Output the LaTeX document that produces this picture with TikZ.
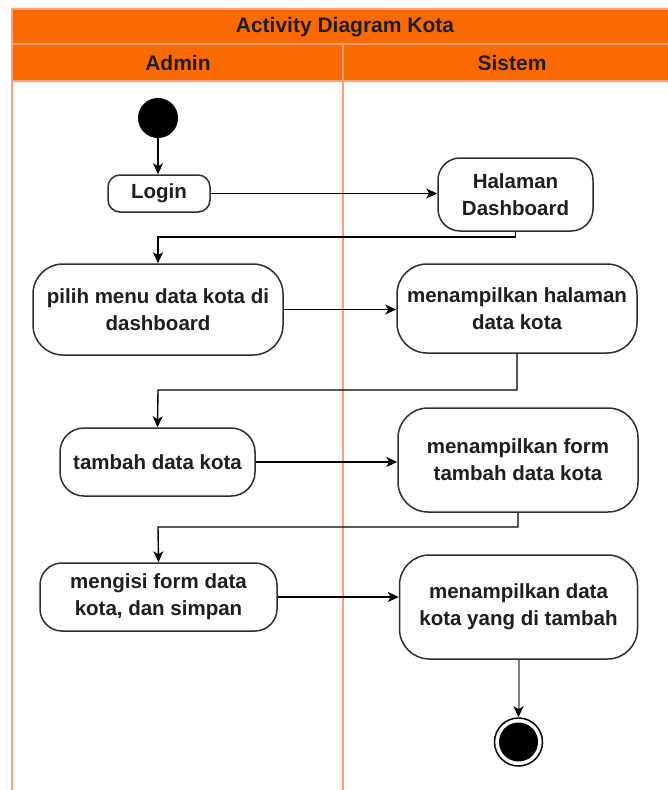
\documentclass[tikz,border=0pt]{standalone}
\usepackage{fontspec}
\setmainfont{Liberation Sans}
\usetikzlibrary{arrows.meta}
\definecolor{laneorange}{HTML}{FA6A00}
\definecolor{laneline}{HTML}{FF9E78}
\definecolor{inktext}{HTML}{1E1E1E}
\definecolor{boxline}{HTML}{2E2E2E}
\begin{document}
\begin{tikzpicture}[x=1pt,y=-1pt,
  act/.style={draw=boxline,line width=1.5pt,fill=white,align=center,
    text=inktext,font=\bfseries\fontsize{20.5}{27}\selectfont,inner sep=0pt},
  flow/.style={line width=1.4pt,draw=black,
    -{Stealth[length=11pt,width=10pt,inset=3pt]}},
  hdr/.style={font=\bfseries\fontsize{21}{25}\selectfont,text=inktext}]
\useasboundingbox (0,0) rectangle (667,790);

% swimlane frame
\fill[laneorange] (12,9) rectangle (680,81);
\draw[laneline,line width=1.5pt] (680,9) -- (12,9) -- (12,800);
\draw[laneline,line width=1.5pt] (12,44) -- (680,44);
\draw[laneline,line width=1.5pt] (12,81) -- (680,81);
\draw[laneline,line width=1.5pt] (343,44) -- (343,800);
\node[hdr] (title) at (345,27) {Activity Diagram Kota};
\node[hdr] (admin) at (178,63) {Admin};
\node[hdr] (sistem) at (512,63) {Sistem};

% activities
\node[circle,fill=black,minimum size=40pt,inner sep=0pt] (start) at (158,118) {};
\node[act,rounded corners=12pt,minimum width=102pt,minimum height=37pt] (login) at (159,193.5) {Login};
\node[act,rounded corners=22pt,minimum width=155pt,minimum height=73pt] (dash) at (515.5,194.5) {Halaman\\Dashboard};
\node[act,rounded corners=30pt,minimum width=250pt,minimum height=91pt] (pilih) at (158,309.5) {pilih menu data kota di\\dashboard};
\node[act,rounded corners=30pt,minimum width=240pt,minimum height=89pt] (tampil) at (517,308.5) {menampilkan halaman\\data kota};
\node[act,rounded corners=24pt,minimum width=195pt,minimum height=68pt] (tambah) at (157.5,462) {tambah data kota};
\node[act,rounded corners=30pt,minimum width=240pt,minimum height=104pt] (form) at (518,460) {menampilkan form\\tambah data kota};
\node[act,rounded corners=22pt,minimum width=237pt,minimum height=68pt] (isi) at (158.5,597) {mengisi form data\\kota, dan simpan};
\node[act,rounded corners=30pt,minimum width=238pt,minimum height=104pt] (hasil) at (518.5,607) {menampilkan data\\kota yang di tambah};
\node[circle,draw=black,line width=1.5pt,fill=white,minimum size=48pt,inner sep=0pt] (end) at (518.5,742) {};
\node[circle,fill=black,minimum size=39pt,inner sep=0pt] (endin) at (end) {};

% transitions
\coordinate (b1) at (158,237);
\coordinate (b2) at (158,390);
\coordinate (b3) at (158,527);
\draw[flow] (start) -- (start |- login.north);
\draw[flow] (login.east) -- (login.east -| dash.west);
\draw[flow] (dash.south) |- (b1) -- (pilih.north);
\draw[flow] (pilih.east) -- (pilih.east -| tampil.west);
\draw[flow] (tampil.south) |- (b2) -- (tambah.north);
\draw[flow] (tambah.east) -- (tambah.east -| form.west);
\draw[flow] (form.south) |- (b3) -- (isi.north);
\draw[flow] (isi.east) -- (isi.east -| hasil.west);
\draw[line width=2pt,draw=black!50,-{Stealth[length=11pt,width=10pt,inset=3pt,black]}] (hasil.south) -- (end.north);
\end{tikzpicture}
\end{document}
